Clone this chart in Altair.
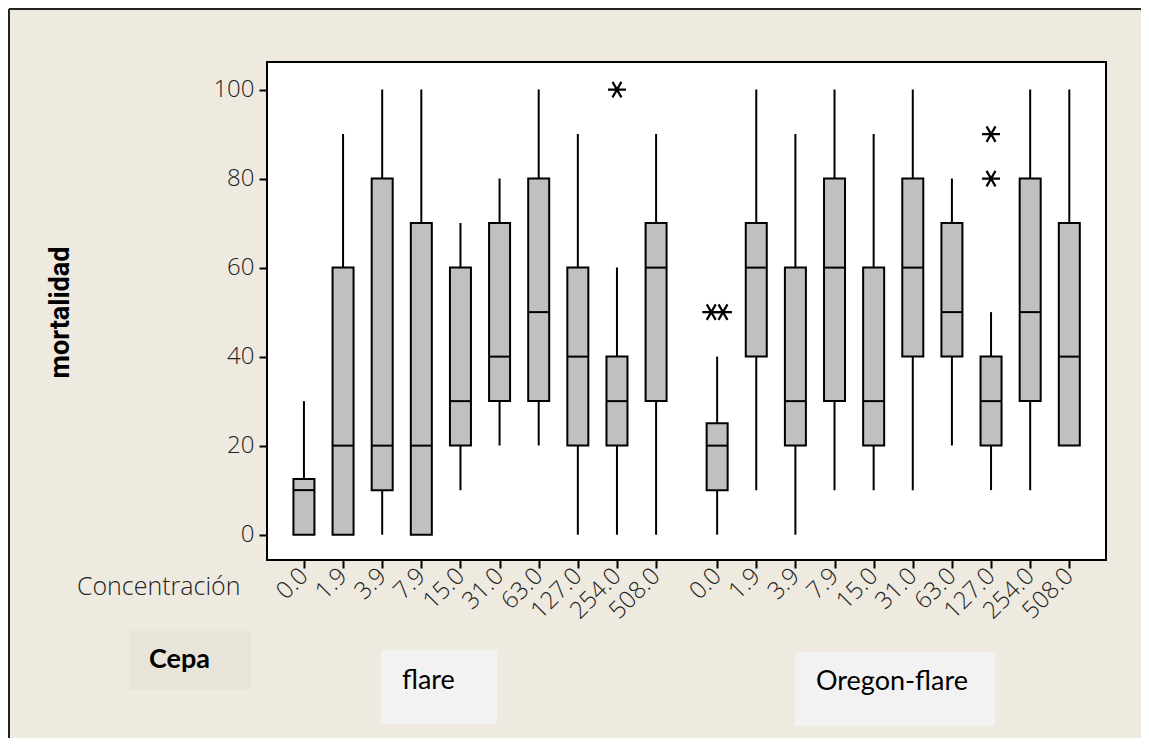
import json
import altair as alt
import pandas as pd

# ---- data ----
concs = ["0.0", "1.9", "3.9", "7.9", "15.0", "31.0", "63.0", "127.0", "254.0", "508.0"]
cepas = ["flare", "Oregon-flare"]

whisker_low = [0, 0, 0, 0, 10, 20, 20, 0, 0, 0,
               0, 10, 0, 10, 10, 10, 20, 10, 10, 20]
q1 = [0, 0, 10, 0, 20, 30, 30, 20, 20, 30,
      10, 40, 20, 30, 20, 40, 40, 20, 30, 20]
median = [10, 20, 20, 20, 30, 40, 50, 40, 30, 60,
          20, 60, 30, 60, 30, 60, 50, 30, 50, 40]
q3 = [12.5, 60, 80, 70, 60, 70, 80, 60, 40, 70,
      25, 70, 60, 80, 60, 80, 70, 40, 80, 70]
whisker_high = [30, 90, 100, 100, 70, 80, 100, 90, 60, 90,
                40, 100, 90, 100, 90, 100, 80, 50, 100, 100]

outlier_cepa = ["flare", "Oregon-flare", "Oregon-flare", "Oregon-flare", "Oregon-flare"]
outlier_conc = ["254.0", "0.0", "0.0", "127.0", "127.0"]
outlier_value = [100, 50, 50, 80, 90]

GAP = 10.56  # slot offset of the second group on the x axis

rows = []
k = 0
for c in cepas:
    for i, conc in enumerate(concs):
        rows.append(dict(cepa=c, conc=conc, idx=i, lo=whisker_low[k], q1=q1[k],
                         med=median[k], q3=q3[k], hi=whisker_high[k]))
        k += 1
df = pd.DataFrame(rows)

out = pd.DataFrame(dict(cepa=outlier_cepa, conc=outlier_conc, value=outlier_value))
out["idx"] = out["conc"].map({c: i for i, c in enumerate(concs)})

pos_expr = f"datum.idx + (datum.cepa == 'Oregon-flare' ? {GAP} : 0)"

BG = "#EEEAE0"
FONT = "Open Sans"
TXT = "#222222"

tick_values = [i for i in range(10)] + [round(i + GAP, 2) for i in range(10)]
label_expr = f"{json.dumps(concs)}[round(datum.value >= 10 ? datum.value - {GAP} : datum.value)]"

xscale = alt.Scale(domain=[-0.816, 20.37], nice=False, zero=False)
yscale = alt.Scale(domain=[-5.7, 106.2], nice=False, zero=False)

xaxis = alt.Axis(values=tick_values, labelExpr=label_expr, labelAngle=315,
                 labelAlign="right", labelBaseline="middle", labelOverlap=False,
                 labelFlush=False, labelBound=False, labelFont=FONT, labelFontWeight=300,
                 labelFontSize=24, labelColor=TXT, labelPadding=4,
                 tickSize=8, tickWidth=2, tickColor="black", domain=False, grid=False,
                 title="Concentración", titleFont=FONT, titleFontWeight=300,
                 titleFontSize=25, titleColor=TXT, titleAngle=0,
                 titleAlign="right", titleBaseline="middle", titleX=-27, titleY=26)
yaxis = alt.Axis(values=[0, 20, 40, 60, 80, 100], labelFont=FONT, labelFontWeight=300,
                 labelFontSize=24, labelColor=TXT, labelPadding=5,
                 tickSize=8, tickWidth=2, tickColor="black", domain=False, grid=False,
                 title="mortalidad", titleFont="Roboto", titleFontWeight="bold",
                 titleFontSize=27, titleColor="black", titleAngle=270,
                 titleAlign="center", titleBaseline="middle", titleX=-207, titleY=250)

base = alt.Chart(df).transform_calculate(pos=pos_expr)

whisk = base.mark_rule(color="black", strokeWidth=2).encode(
    x=alt.X("pos:Q", scale=xscale, axis=xaxis),
    y=alt.Y("lo:Q", scale=yscale, axis=yaxis),
    y2="hi:Q",
)
box = base.mark_bar(size=21, fill="#C0C0C0", stroke="black", strokeWidth=2,
                    opacity=1).encode(x="pos:Q", y="q1:Q", y2="q3:Q")
med = base.mark_tick(orient="horizontal", size=21, thickness=2, color="black",
                     opacity=1).encode(x="pos:Q", y="med:Q")

star = "M-1,0L1,0M-0.5,-0.866L0.5,0.866M-0.5,0.866L0.5,-0.866"
outl = alt.Chart(out).transform_window(
    rk="row_number()", groupby=["cepa", "idx", "value"]
).transform_joinaggregate(
    n="count()", groupby=["cepa", "idx", "value"]
).transform_calculate(
    pos=pos_expr + " + (datum.rk - (datum.n + 1) / 2) * 0.3"
).mark_point(shape=star, size=320, filled=False, stroke="black", strokeWidth=2.2,
             opacity=1).encode(x="pos:Q", y="value:Q")

one = pd.DataFrame({"a": [0]})

def rect(x1, x2, y1, y2, fill):
    return alt.Chart(one).mark_rect(fill=fill, clip=False).encode(
        x=alt.value(x1), x2=alt.value(x2), y=alt.value(y1), y2=alt.value(y2))

def label(txt, x, y, size, weight="normal"):
    return alt.Chart(one).mark_text(text=txt, align="left", baseline="alphabetic",
                                    font="Lato", fontSize=size, fontWeight=weight,
                                    color="black").encode(x=alt.value(x), y=alt.value(y))

cepa_box = rect(-138, -16, 569, 628, "#E8E4D9")
flare_box = rect(114, 230, 588, 662, "#F2F2F2")
oregon_box = rect(528, 728, 590, 664, "#F2F2F2")
cepa_txt = label("Cepa", -118, 606, 27, "bold")
flare_txt = label("flare", 135, 627, 27)
oregon_txt = label("Oregon-flare", 549, 628, 27)

left_line = alt.Chart(one).mark_rule(color="#222222", strokeWidth=2).encode(
    x=alt.value(-258), y=alt.value(-53), y2=alt.value(690))
top_line = alt.Chart(one).mark_rule(color="#222222", strokeWidth=2).encode(
    x=alt.value(-258), x2=alt.value(880), y=alt.value(-53))

chart = alt.layer(
    whisk, box, med, outl,
    cepa_box, flare_box, oregon_box, cepa_txt, flare_txt, oregon_txt,
    left_line, top_line,
).properties(
    width=839, height=498,
    autosize=alt.AutoSizeParams(type="none"),
    padding={"left": 259, "top": 54, "right": 35, "bottom": 178},
    background=BG,
).configure_view(
    fill="white", stroke="black", strokeWidth=2
)

chart.save("out.html", embed_options={"renderer": "svg", "actions": False})
